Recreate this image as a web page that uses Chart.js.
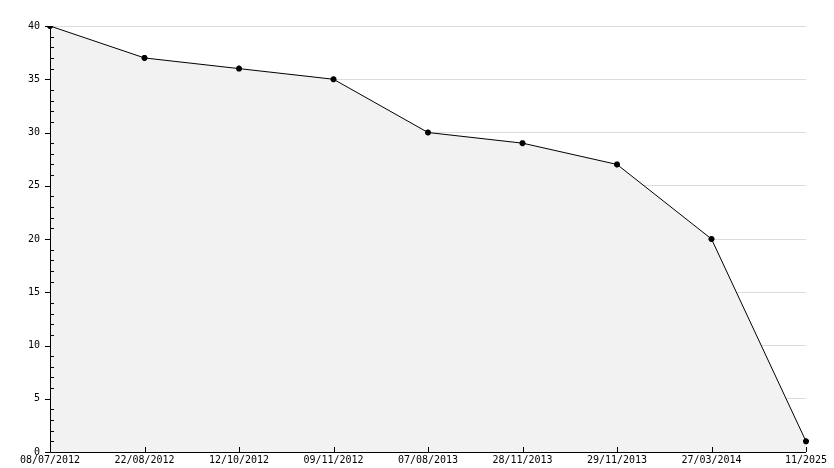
<!DOCTYPE html>
<html><head><meta charset="utf-8">
<script src="https://cdn.jsdelivr.net/npm/chart.js@4/dist/chart.umd.min.js"></script>
<style>html,body{margin:0;background:#fff}#wrap{width:834px;height:468px}</style>
</head><body><div id="wrap"><canvas id="c"></canvas></div>
<script>
var dates = ['08/07/2012', '22/08/2012', '12/10/2012', '09/11/2012', '07/08/2013', '28/11/2013', '29/11/2013', '27/03/2014', '11/2025'];
var counts = [40, 37, 36, 35, 30, 29, 27, 20, 1];

// minor ticks on the y axis, small x ticks pointing up
var ticksPlugin = {
  id: 'ticks',
  afterDraw: function (chart) {
    var c = chart.ctx, y = chart.scales.y, x = chart.scales.x, a = chart.chartArea;
    c.save();
    c.strokeStyle = '#000';
    c.lineWidth = 1;
    c.beginPath();
    for (var v = 0; v <= 40; v++) {
      var py = Math.round(y.getPixelForValue(v)) + 0.5;
      if (v % 5 === 0) { c.moveTo(a.left - 5, py); c.lineTo(a.left, py); }
      else { c.moveTo(a.left, py); c.lineTo(a.left + 4, py); }
    }
    for (var i = 0; i < dates.length; i++) {
      var px = Math.round(x.getPixelForValue(i)) + 0.5;
      c.moveTo(px, a.bottom); c.lineTo(px, a.bottom - 5);
    }
    c.moveTo(a.left + 0.5, a.top); c.lineTo(a.left + 0.5, a.bottom + 0.5);
    c.lineTo(a.right, a.bottom + 0.5);
    c.stroke();
    c.restore();
  }
};

new Chart(document.getElementById('c'), {
  type: 'line',
  data: {
    labels: dates,
    datasets: [{
      data: counts,
      borderColor: '#000',
      borderWidth: 1,
      backgroundColor: '#f2f2f2',
      fill: 'origin',
      tension: 0,
      pointStyle: 'star',
      pointRadius: 3,
      pointBorderColor: '#000',
      pointBorderWidth: 2
    }]
  },
  options: {
    responsive: true,
    maintainAspectRatio: false,
    animation: false,
    layout: { padding: { left: 0, right: 28, top: 26, bottom: 0 } },
    plugins: { legend: { display: false }, tooltip: { enabled: false } },
    scales: {
      x: {
        offset: false,
        grid: { display: false, drawTicks: false },
        border: { display: false },
        ticks: { color: '#000', font: { family: 'DejaVu Sans Mono', size: 10 }, maxRotation: 0, autoSkip: false, padding: 2 }
      },
      y: {
        min: 0, max: 40,
        afterFit: function (s) { s.width = 50; },
        grid: { color: '#dcdcdc', drawTicks: false },
        border: { display: false },
        ticks: { stepSize: 5, color: '#000', font: { family: 'DejaVu Sans Mono', size: 10 }, padding: 10 }
      }
    }
  },
  plugins: [ticksPlugin]
});
</script></body></html>
